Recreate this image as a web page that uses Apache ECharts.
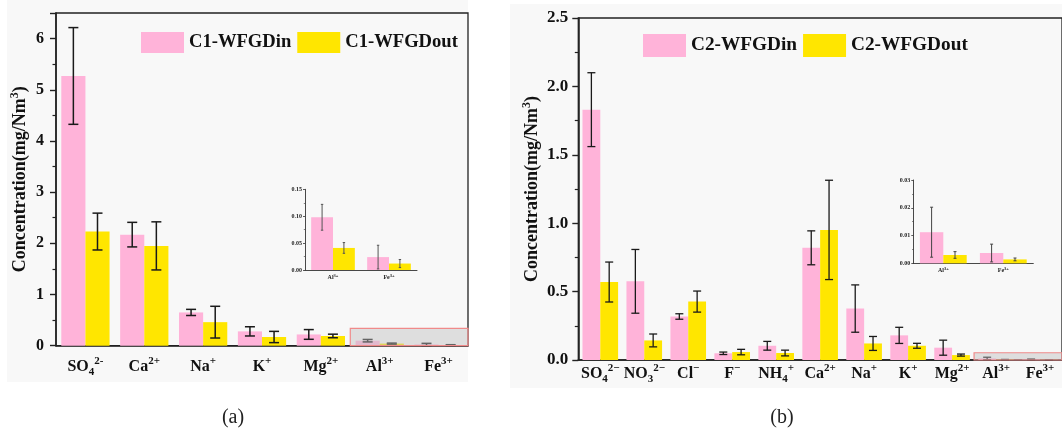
<!DOCTYPE html>
<html><head><meta charset="utf-8">
<script src="https://cdn.jsdelivr.net/npm/echarts@6/dist/echarts.min.js"></script>
<style>html,body{margin:0;padding:0;background:#fff}#c{width:1062px;height:430px}</style>
</head><body><div id="c"></div>
<script>
// ---------- data ----------
const catsA = ['SO{b|4}{p|2-}', 'Ca{p|2+}', 'Na{p|+}', 'K{p|+}', 'Mg{p|2+}', 'Al{p|3+}', 'Fe{p|3+}'];
const c1In     = [5.27, 2.17, 0.65, 0.28, 0.22, 0.098, 0.024];
const c1InErr  = [0.945, 0.24, 0.06, 0.09, 0.095, 0.024, 0.022];
const c1Out    = [2.23, 1.95, 0.46, 0.17, 0.19, 0.041, 0.012];
const c1OutErr = [0.36, 0.47, 0.31, 0.11, 0.035, 0.010, 0.0075];

const catsB = ['SO{b|4}{p|2−}', 'NO{b|3}{p|2−}', 'Cl{p|−}', 'F{p|−}', 'NH{b|4}{p|+}', 'Ca{p|2+}', 'Na{p|+}', 'K{p|+}', 'Mg{p|2+}', 'Al{p|3+}', 'Fe{p|3+}'];
const c2In     = [1.83, 0.575, 0.318, 0.049, 0.104, 0.82, 0.376, 0.18, 0.09, 0.0112, 0.0037];
const c2InErr  = [0.27, 0.233, 0.02, 0.009, 0.032, 0.124, 0.173, 0.059, 0.055, 0.009, 0.0032];
const c2Out    = [0.57, 0.143, 0.427, 0.058, 0.051, 0.951, 0.121, 0.104, 0.036, 0.003, 0.0014];
const c2OutErr = [0.146, 0.047, 0.077, 0.02, 0.021, 0.363, 0.051, 0.018, 0.0075, 0.0012, 0.0005];

const insetCount = 2; // Al3+, Fe3+ shown in insets
const namesA = ['C1-WFGDin', 'C1-WFGDout'];
const namesB = ['C2-WFGDin', 'C2-WFGDout'];

// ---------- style ----------
const FONT = 'Liberation Serif';
const PINK = '#ffb3d9', YELLOW = '#ffe600', INK = '#111';
const GAP_A = 0.18, GAP_B = 0.19, GAP_I = 0.22;

function errItem(side, gap, cap, color, lw) {
  return function (params, api) {
    const i = api.value(0), v = api.value(1), e = api.value(2);
    const band = api.size([1, 0])[0];
    const bw = band * (1 - gap) / 2;
    const x = api.coord([i, 0])[0] + side * bw / 2;
    const y1 = api.coord([i, v + e])[1], y2 = api.coord([i, Math.max(0, v - e)])[1];
    const st = { stroke: color, lineWidth: lw };
    return { type: 'group', children: [
      { type: 'line', shape: { x1: x, y1: y1, x2: x, y2: y2 }, style: st },
      { type: 'line', shape: { x1: x - cap, y1: y1, x2: x + cap, y2: y1 }, style: st },
      { type: 'line', shape: { x1: x - cap, y1: y2, x2: x + cap, y2: y2 }, style: st }
    ]};
  };
}
const errData = (v, e) => v.map((d, i) => [i, d, e[i]]);

const mainRich = (small) => ({
  b: { fontFamily: FONT, fontWeight: 'bold', fontSize: small, lineHeight: 14, color: INK, verticalAlign: 'bottom' },
  p: { fontFamily: FONT, fontWeight: 'bold', fontSize: small, lineHeight: 14, color: INK, verticalAlign: 'top' }
});

function mainX(gridIndex, cats, fs, margin) {
  return {
    gridIndex, type: 'category', data: cats,
    axisLine: { lineStyle: { color: '#222', width: 1.6 } },
    axisTick: { alignWithLabel: true, length: 5, lineStyle: { color: '#222', width: 1.4 } },
    axisLabel: { interval: 0, margin, lineHeight: 22, fontFamily: FONT, fontWeight: 'bold', fontSize: fs, color: INK,
      rich: mainRich(11) },
    splitLine: { show: false }
  };
}
function boundaryX(gridIndex, cats) {
  return {
    gridIndex, type: 'category', data: cats, position: 'bottom',
    axisLine: { show: false }, axisLabel: { show: false },
    axisTick: { length: 3, lineStyle: { color: '#222', width: 1.2 } },
    splitLine: { show: false }
  };
}
function insetX(gridIndex, cats) {
  return {
    gridIndex, type: 'category', data: cats,
    axisLine: { lineStyle: { color: '#333', width: 0.9 } },
    axisTick: { alignWithLabel: true, length: 2, lineStyle: { color: '#333', width: 0.8 } },
    axisLabel: { interval: 0, margin: 3, lineHeight: 8, fontFamily: FONT, fontWeight: 'bold', fontSize: 6, color: '#222',
      rich: { b: { fontFamily: FONT, fontWeight: 'bold', fontSize: 4.5, lineHeight: 5, color: '#222', verticalAlign: 'bottom' },
              p: { fontFamily: FONT, fontWeight: 'bold', fontSize: 4.5, lineHeight: 5, color: '#222', verticalAlign: 'top' } } }
  };
}
function mainY(gridIndex, max, interval, fmt, margin, fs, name, gap) {
  return {
    gridIndex, type: 'value', min: 0, max, interval,
    name, nameLocation: 'middle', nameRotate: 90, nameGap: gap,
    nameTextStyle: { fontFamily: FONT, fontWeight: 'bold', fontSize: 18, lineHeight: 22, color: INK,
      rich: { p: { fontFamily: FONT, fontWeight: 'bold', fontSize: 12, lineHeight: 14, color: INK, verticalAlign: 'top' } } },
    axisLine: { show: true, lineStyle: { color: '#222', width: 1.6 } },
    axisTick: { show: true, length: 6, lineStyle: { color: '#222', width: 1.4 } },
    minorTick: { show: true, splitNumber: 2, length: 3.5, lineStyle: { color: '#222', width: 1.2 } },
    axisLabel: { margin, fontFamily: FONT, fontWeight: 'bold', fontSize: fs, color: INK, formatter: fmt },
    splitLine: { show: false }, minorSplitLine: { show: false }
  };
}
function insetY(gridIndex, max, interval) {
  return {
    gridIndex, type: 'value', min: 0, max, interval,
    axisLine: { show: true, lineStyle: { color: '#333', width: 0.9 } },
    axisTick: { show: true, length: 2, lineStyle: { color: '#333', width: 0.8 } },
    minorTick: { show: true, splitNumber: 2, length: 1.2, lineStyle: { color: '#333', width: 0.6 } },
    axisLabel: { margin: 3, fontFamily: FONT, fontWeight: 'bold', fontSize: 6, color: '#222', formatter: v => v.toFixed(2) },
    splitLine: { show: false }
  };
}
function bars(name, data, color, xi, yi, gap) {
  return { name, type: 'bar', xAxisIndex: xi, yAxisIndex: yi, data, barGap: '0%',
    barCategoryGap: (gap * 100) + '%', itemStyle: { color }, silent: true, z: 2 };
}
function errs(name, v, e, side, xi, yi, gap, cap, color, lw) {
  return { name, type: 'custom', xAxisIndex: xi, yAxisIndex: yi, data: errData(v, e),
    renderItem: errItem(side, gap, cap, color, lw), silent: true, z: 3, clip: false };
}

const insA = catsA.slice(-insetCount), insB = catsB.slice(-insetCount);
const yName = 'Concentration(mg/Nm{p|3})';
const legendText = (fs) => ({ fontFamily: FONT, fontWeight: 'bold', fontSize: fs, color: INK });

const option = {
  animation: false,
  backgroundColor: '#fff',
  grid: [
    { left: 56, top: 13, width: 412, height: 332.7, show: true, borderColor: '#222', borderWidth: 1.3, backgroundColor: 'transparent' },
    { left: 305, top: 189.3, width: 112, height: 80.7 },
    { left: 578.3, top: 18, width: 487, height: 342, show: true, borderColor: '#222', borderWidth: 1.3, backgroundColor: 'transparent' },
    { left: 913.3, top: 180, width: 120, height: 83.3 }
  ],
  legend: [
    { data: namesA, left: 141, top: 32, padding: 0, itemWidth: 43, itemHeight: 21, itemGap: 6, icon: 'rect', selectedMode: false,
      textStyle: legendText(18.6) },
    { data: namesB, left: 643, top: 34, padding: 0, itemWidth: 43, itemHeight: 23, itemGap: 6, icon: 'rect', selectedMode: false,
      textStyle: legendText(19.3) }
  ],
  xAxis: [
    mainX(0, catsA, 16, 10), boundaryX(0, catsA), insetX(1, insA),
    mainX(2, catsB, 16, 3), boundaryX(2, catsB), insetX(3, insB)
  ],
  yAxis: [
    mainY(0, 6.5, 1, v => (Number.isInteger(v) ? String(v) : ''), 12, 16, yName, 25),
    insetY(1, 0.15, 0.05),
    mainY(2, 2.5, 0.5, v => v.toFixed(1), 10, 17, yName, 35),
    insetY(3, 0.03, 0.01)
  ],
  series: [
    bars(namesA[0], c1In, PINK, 0, 0, GAP_A),
    bars(namesA[1], c1Out, YELLOW, 0, 0, GAP_A),
    errs('eA0', c1In, c1InErr, -1, 0, 0, GAP_A, 5, '#1a1a1a', 1.5),
    errs('eA1', c1Out, c1OutErr, 1, 0, 0, GAP_A, 5, '#1a1a1a', 1.5),
    bars(namesA[0], c1In.slice(-insetCount), PINK, 2, 1, GAP_I),
    bars(namesA[1], c1Out.slice(-insetCount), YELLOW, 2, 1, GAP_I),
    errs('eAi0', c1In.slice(-insetCount), c1InErr.slice(-insetCount), -1, 2, 1, GAP_I, 1.2, '#555', 1),
    errs('eAi1', c1Out.slice(-insetCount), c1OutErr.slice(-insetCount), 1, 2, 1, GAP_I, 1.2, '#555', 1),

    bars(namesB[0], c2In, PINK, 3, 2, GAP_B),
    bars(namesB[1], c2Out, YELLOW, 3, 2, GAP_B),
    errs('eB0', c2In, c2InErr, -1, 3, 2, GAP_B, 4, '#1a1a1a', 1.3),
    errs('eB1', c2Out, c2OutErr, 1, 3, 2, GAP_B, 4, '#1a1a1a', 1.3),
    bars(namesB[0], c2In.slice(-insetCount), PINK, 5, 3, GAP_I),
    bars(namesB[1], c2Out.slice(-insetCount), YELLOW, 5, 3, GAP_I),
    errs('eBi0', c2In.slice(-insetCount), c2InErr.slice(-insetCount), -1, 5, 3, GAP_I, 1.5, '#444', 1),
    errs('eBi1', c2Out.slice(-insetCount), c2OutErr.slice(-insetCount), 1, 5, 3, GAP_I, 1.5, '#444', 1)
  ],
  graphic: [
    { type: 'rect', id: 'bgA', z: -100, silent: true, shape: { x: 7, y: 0, width: 461, height: 382 }, style: { fill: '#f8f8f8' } },
    { type: 'rect', id: 'bgB', z: -100, silent: true, shape: { x: 510, y: 4, width: 552, height: 384 }, style: { fill: '#f8f8f8' } },
    { type: 'text', id: 'capA', silent: true, style: { text: '(a)', x: 233, y: 418, textAlign: 'center', textVerticalAlign: 'middle', font: '20px "Liberation Serif"', fill: '#222' } },
    { type: 'text', id: 'capB', silent: true, style: { text: '(b)', x: 782, y: 418, textAlign: 'center', textVerticalAlign: 'middle', font: '20px "Liberation Serif"', fill: '#222' } }
  ]
};

const chart = echarts.init(document.getElementById('c'), null, { renderer: 'canvas' });
chart.setOption(option);

// highlight box over the small-value categories (Al3+, Fe3+), positioned from the axes
function zoomBox(id, xi, yi, firstIdx, lastIdx, topVal) {
  const c0 = chart.convertToPixel({ xAxisIndex: xi }, firstIdx);
  const c1 = chart.convertToPixel({ xAxisIndex: xi }, firstIdx + 1);
  const cl = chart.convertToPixel({ xAxisIndex: xi }, lastIdx);
  const band = c1 - c0;
  const x0 = c0 - band / 2, x1 = cl + band / 2;
  const yTop = chart.convertToPixel({ yAxisIndex: yi }, topVal);
  const yBot = chart.convertToPixel({ yAxisIndex: yi }, 0);
  return { type: 'rect', id, z: 100, silent: true,
    shape: { x: x0, y: yTop, width: x1 - x0, height: yBot - yTop },
    style: { fill: 'rgba(190,190,190,0.45)', stroke: '#f08a8a', lineWidth: 1.2 } };
}
chart.setOption({ graphic: [
  zoomBox('boxA', 0, 0, catsA.length - insetCount, catsA.length - 1, 0.34),
  zoomBox('boxB', 3, 2, catsB.length - insetCount, catsB.length - 1, 0.053)
] });
</script>
</body></html>
